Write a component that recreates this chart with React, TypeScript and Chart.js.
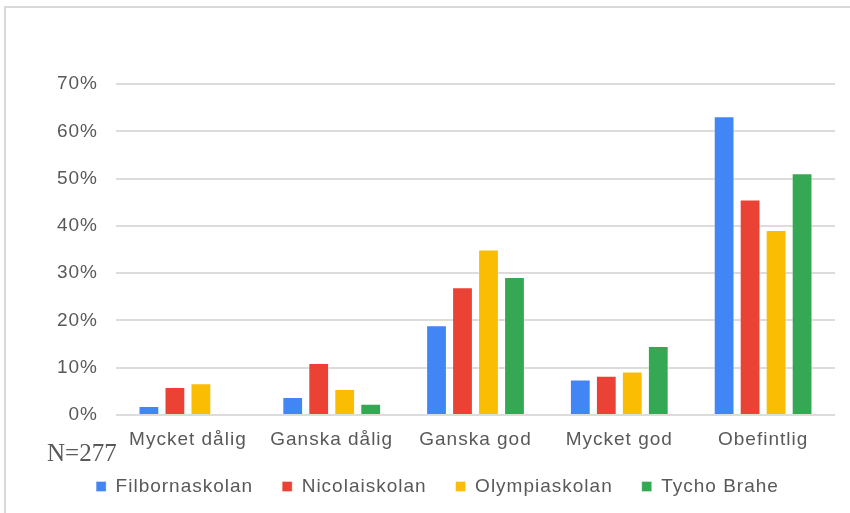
import { useEffect, useRef } from "react";
import { Chart, registerables } from "chart.js";

Chart.register(...registerables);

const categories = ["Mycket dålig", "Ganska dålig", "Ganska god", "Mycket god", "Obefintlig"];
const seriesNames = ["Filbornaskolan", "Nicolaiskolan", "Olympiaskolan", "Tycho Brahe"];
const filbornaskolan = [1.9, 3.8, 19.0, 7.5, 63.2];
const nicolaiskolan = [5.9, 11.0, 27.0, 8.3, 45.6];
const olympiaskolan = [6.7, 5.5, 35.0, 9.2, 39.1];
const tychoBrahe = [0, 2.4, 29.2, 14.6, 51.1];
const seriesColors = ["#4285F4", "#EA4335", "#FBBC04", "#34A853"];
const yMax = 70;
const yStep = 10;
const noteText = "N=277";

const FONT = "'Liberation Sans', Arial, sans-serif";
const TEXT_COLOR = "#595959";
const SPACING = "1px";

const letterSpacingPlugin = {
  id: "letterSpacing",
  beforeUpdate(chart: any) {
    chart.ctx.letterSpacing = SPACING;
  },
  beforeLayout(chart: any) {
    chart.ctx.letterSpacing = SPACING;
  },
  afterLayout(chart: any) {
    // let the category labels extend below the axis box (no clipping of descenders)
    const x = chart.scales.x;
    if (x) {
      x.bottom = x.top + 60;
      x.height = 60;
    }
  },
  beforeDraw(chart: any) {
    chart.ctx.letterSpacing = SPACING;
  },
};

export default function App() {
  const canvasRef = useRef<HTMLCanvasElement | null>(null);

  useEffect(() => {
    if (!canvasRef.current) return;
    const values = [filbornaskolan, nicolaiskolan, olympiaskolan, tychoBrahe];
    const chart = new Chart(canvasRef.current, {
      type: "bar",
      data: {
        labels: categories,
        datasets: seriesNames.map((name, i) => ({
          label: name,
          data: values[i],
          backgroundColor: seriesColors[i],
          borderColor: "rgba(255,255,255,0.35)",
          borderWidth: 1,
          categoryPercentage: 0.723,
          barPercentage: 0.8,
        })),
      },
      options: {
        responsive: false,
        animation: false,
        devicePixelRatio: 1,
        layout: { padding: { left: 40, right: 15, top: 84, bottom: 7 } },
        plugins: {
          legend: {
            position: "bottom",
            labels: {
              boxWidth: 10,
              boxHeight: 10,
              padding: 29,
              color: TEXT_COLOR,
              font: { family: FONT, size: 19 },
            },
          },
          tooltip: { enabled: false },
        },
        scales: {
          x: {
            grid: { display: false },
            border: { display: false },
            ticks: {
              color: TEXT_COLOR,
              font: { family: FONT, size: 19 },
              padding: 5,
              maxRotation: 0,
              autoSkip: false,
            },
            afterFit: (axis: any) => {
              axis.height = 33;
            },
          },
          y: {
            min: 0,
            max: yMax,
            grid: { color: "#dcdcdc", lineWidth: 2, drawTicks: false },
            border: { display: false },
            ticks: {
              stepSize: yStep,
              color: TEXT_COLOR,
              font: { family: FONT, size: 19 },
              padding: 18,
              callback: (v: any) => `${v}%`,
            },
            afterFit: (axis: any) => {
              axis.width = 76;
            },
          },
        },
      },
      plugins: [letterSpacingPlugin],
    });
    return () => chart.destroy();
  }, []);

  return (
    <div
      style={{
        position: "fixed",
        left: 0,
        top: 0,
        width: 850,
        height: 513,
        overflow: "hidden",
        background: "#ffffff",
      }}
    >
      <canvas ref={canvasRef} width={850} height={513} style={{ position: "absolute", left: 0, top: 0 }} />
      <div
        style={{
          position: "absolute",
          left: 4,
          top: 6,
          width: 900,
          height: 600,
          borderTop: "2px solid #d9d9d9",
          borderLeft: "2px solid #d9d9d9",
          pointerEvents: "none",
        }}
      />
      <div
        style={{
          position: "absolute",
          left: 47,
          top: 440,
          fontFamily: "'Liberation Serif', 'Times New Roman', serif",
          fontSize: 25,
          lineHeight: "25px",
          color: TEXT_COLOR,
          whiteSpace: "nowrap",
        }}
      >
        {noteText}
      </div>
    </div>
  );
}
